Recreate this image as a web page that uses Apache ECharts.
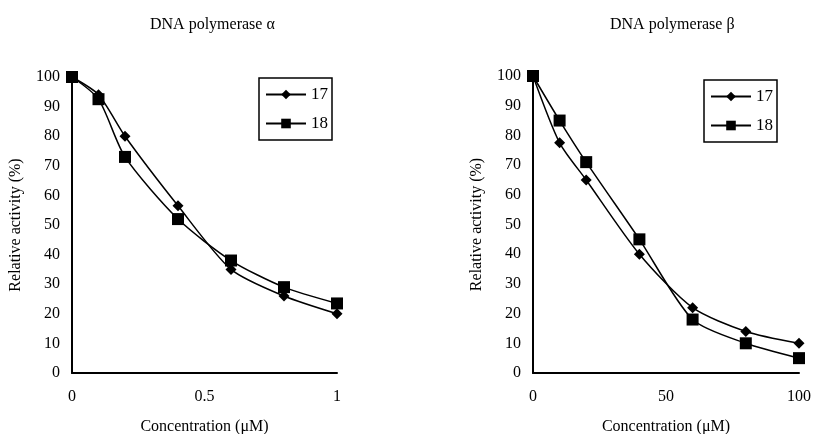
<!DOCTYPE html>
<html>
<head>
<meta charset="utf-8">
<script src="https://cdn.jsdelivr.net/npm/echarts@6/dist/echarts.min.js"></script>
<style>
  html, body { margin: 0; padding: 0; background: #fff; }
  #main { width: 813px; height: 434px; }
</style>
</head>
<body>
<div id="main"></div>
<script>
var myChart = echarts.init(document.getElementById('main'));

// DNA polymerase alpha (concentration in uM)
var alphaX = [0, 0.1, 0.2, 0.4, 0.6, 0.8, 1];
var alpha17 = [100, 94, 80, 56.5, 35, 26, 20];
var alpha18 = [100, 92.5, 73, 52, 38, 29, 23.5];

// DNA polymerase beta
var betaX = [0, 10, 20, 40, 60, 80, 100];
var beta17 = [100, 77.5, 65, 40, 22, 14, 10];
var beta18 = [100, 85, 71, 45, 18, 10, 5];

var yTicks = [0, 10, 20, 30, 40, 50, 60, 70, 80, 90, 100];

function pairs(xs, ys) {
    return xs.map(function (x, i) { return [x, ys[i]]; });
}

var font = 'Liberation Serif';
var txt = { color: '#000', fontFamily: font, fontSize: 16 };

function xAxisFor(idx, max, interval) {
    return {
        gridIndex: idx, type: 'value', min: 0, max: max, interval: interval,
        name: 'Concentration (\u03bcM)', nameLocation: 'middle', nameGap: 46,
        nameTextStyle: txt,
        axisLine: { lineStyle: { color: '#000', width: 2 } },
        axisTick: { show: false },
        axisLabel: { color: '#000', fontFamily: font, fontSize: 16, margin: 16 },
        splitLine: { show: false }
    };
}

function yAxisFor(idx) {
    return {
        gridIndex: idx, type: 'value', min: yTicks[0], max: yTicks[yTicks.length - 1], interval: 10,
        name: 'Relative activity (%)', nameLocation: 'middle', nameGap: 48,
        nameTextStyle: txt,
        axisLine: { show: true, lineStyle: { color: '#000', width: 2 } },
        axisTick: { show: false },
        axisLabel: { color: '#000', fontFamily: font, fontSize: 16, margin: 12 },
        splitLine: { show: false }
    };
}

function lineSeries(name, idx, data, symbol, size) {
    return {
        name: name, type: 'line', xAxisIndex: idx, yAxisIndex: idx,
        data: data, smooth: 0.25,
        symbol: symbol, symbolSize: size,
        lineStyle: { color: '#000', width: 1.5 },
        itemStyle: { color: '#000' },
        emphasis: { disabled: true }
    };
}

function legendFor(left, top) {
    return {
        data: ['17', '18'], left: left, top: top, orient: 'vertical',
        itemWidth: 40, itemHeight: 12, itemGap: 12,
        padding: [8, 4, 8, 6],
        borderColor: '#000', borderWidth: 1.5,
        textStyle: { color: '#000', fontFamily: font, fontSize: 17 },
        selectedMode: false
    };
}

var option = {
    backgroundColor: '#fff',
    animation: false,
    title: [
        { text: 'DNA polymerase \u03b1', left: 145, top: 12,
          textStyle: { color: '#000', fontFamily: font, fontSize: 16, fontWeight: 'normal' } },
        { text: 'DNA polymerase \u03b2', left: 605, top: 12,
          textStyle: { color: '#000', fontFamily: font, fontSize: 16, fontWeight: 'normal' } }
    ],
    legend: [legendFor(259, 78), legendFor(704, 80)],
    grid: [
        { left: 72, top: 77, width: 265, height: 296, outerBoundsMode: 'none' },
        { left: 533, top: 76, width: 266, height: 297, outerBoundsMode: 'none' }
    ],
    xAxis: [xAxisFor(0, 1, 0.5), xAxisFor(1, 100, 50)],
    yAxis: [yAxisFor(0), yAxisFor(1)],
    series: [
        lineSeries('17', 0, pairs(alphaX, alpha17), 'diamond', 11),
        lineSeries('18', 0, pairs(alphaX, alpha18), 'rect', 12),
        lineSeries('17', 1, pairs(betaX, beta17), 'diamond', 11),
        lineSeries('18', 1, pairs(betaX, beta18), 'rect', 12)
    ]
};
myChart.setOption(option);
</script>
</body>
</html>
